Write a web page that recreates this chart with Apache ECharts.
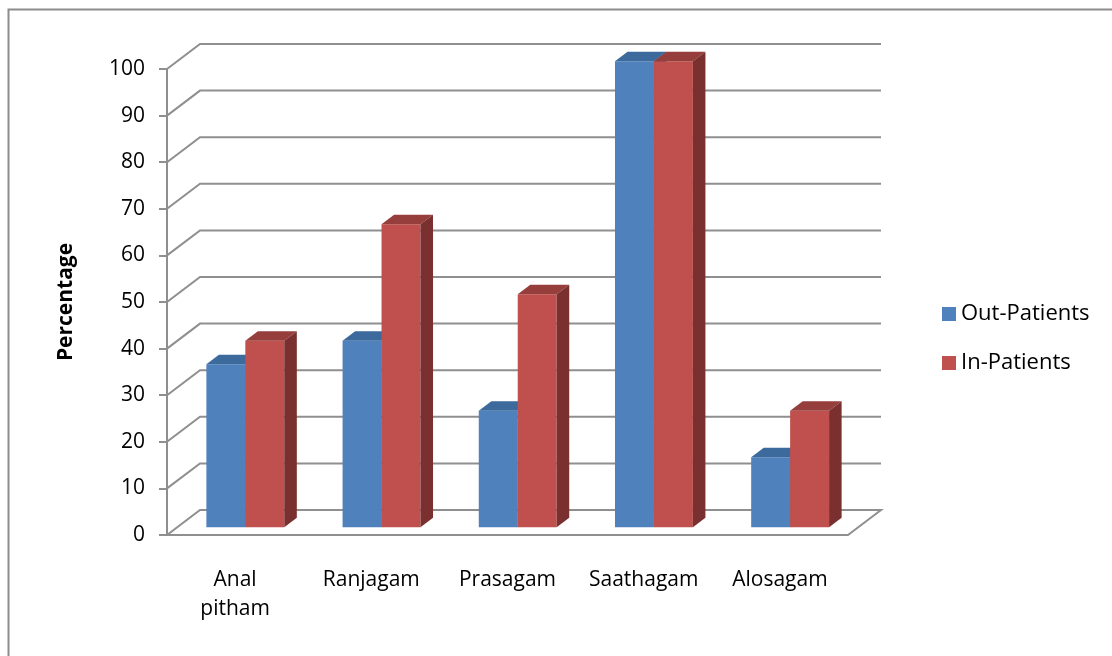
<!DOCTYPE html>
<html>
<head>
<meta charset="utf-8">
<script src="https://cdn.jsdelivr.net/npm/echarts@6/dist/echarts.min.js"></script>
<style>
html,body{margin:0;padding:0;background:#fff;}
#chart{width:1112px;height:656px;}
</style>
</head>
<body>
<div id="chart"></div>
<script>
const categories = ['Anal pitham', 'Ranjagam', 'Prasagam', 'Saathagam', 'Alosagam'];
const outPatients = [35, 40, 25, 100, 15];
const inPatients = [40, 65, 50, 100, 25];
const yTicks = [0, 10, 20, 30, 40, 50, 60, 70, 80, 90, 100];
const seriesNames = ['Out-Patients', 'In-Patients'];

const FONT = 'Open Sans';
const DX = 33, DY = -25;      // full depth offset of the 3D box (pixels)
const F0 = 0.31, FD = 0.38;   // bar front depth fraction and bar depth fraction
const BAR_FRAC = 0.286;       // one bar width as fraction of band
const GRID_COLOR = '#8f8f8f';

const chart = echarts.init(document.getElementById('chart'));

function barRenderer(slot, front, top, side) {
  return function (params, api) {
    const idx = api.value(0), val = api.value(1);
    const base = api.coord([idx, 0]);
    const peak = api.coord([idx, val]);
    const bw = api.size([1, 0])[0];
    const w = bw * BAR_FRAC;
    const fx = DX * F0, fy = DY * F0, ddx = DX * FD, ddy = DY * FD;
    const x0 = base[0] - w + slot * w + fx;
    const yb = base[1] + fy, yt = peak[1] + fy;
    return {
      type: 'group',
      children: [
        { type: 'rect', shape: { x: x0, y: yt, width: w, height: yb - yt }, style: { fill: front } },
        { type: 'polygon', shape: { points: [[x0, yt], [x0 + w, yt], [x0 + w + ddx, yt + ddy], [x0 + ddx, yt + ddy]] }, style: { fill: top } },
        { type: 'polygon', shape: { points: [[x0 + w, yt], [x0 + w + ddx, yt + ddy], [x0 + w + ddx, yb + ddy], [x0 + w, yb]] }, style: { fill: side } }
      ]
    };
  };
}

function gridRenderer(params, api) {
  const v = api.value(1);
  const bw = api.size([1, 0])[0];
  const first = api.coord([0, v]);
  const last = api.coord([categories.length - 1, v]);
  const xl = first[0] - bw / 2, xr = last[0] + bw / 2, y = first[1];
  let pts;
  if (v === 0) {
    pts = [[xl, y], [xl + DX, y + DY], [xr + DX, y + DY], [xr, y]];
  } else {
    pts = [[xl, y], [xl + DX, y + DY], [xr + DX, y + DY]];
  }
  return { type: 'polyline', shape: { points: pts }, style: { stroke: GRID_COLOR, lineWidth: 2, fill: null } };
}

const option = {
  animation: false,
  backgroundColor: '#ffffff',
  graphic: [{
    type: 'rect', left: 6, top: 7, shape: { x: 0, y: 0, width: 1200, height: 700 },
    style: { fill: null, stroke: '#8c8c8c', lineWidth: 2 }, silent: true, z: -10
  }],
  grid: { left: 167, top: 69, width: 681, height: 466 },
  legend: {
    data: seriesNames,
    orient: 'vertical',
    left: 937, top: 297,
    itemWidth: 14, itemHeight: 14, itemGap: 25,
    icon: 'rect',
    textStyle: { fontFamily: FONT, fontSize: 22, color: '#000', lineHeight: 24 }
  },
  xAxis: {
    type: 'category',
    data: categories,
    boundaryGap: true,
    axisLine: { show: true, lineStyle: { color: GRID_COLOR, width: 2 } },
    axisTick: { show: false },
    axisLabel: {
      interval: 0, hideOverlap: false,
      fontFamily: FONT, fontSize: 21, color: '#000', margin: 31, lineHeight: 29,
      formatter: function (s) { return s.replace(' ', '\n'); }
    },
    splitLine: { show: false }
  },
  yAxis: {
    type: 'value',
    min: 0, max: 100, interval: 10,
    name: 'Percentage',
    nameLocation: 'middle',
    nameGap: 90,
    nameTextStyle: { fontFamily: FONT, fontSize: 21, fontWeight: 'bold', color: '#000' },
    axisLine: { show: true, lineStyle: { color: GRID_COLOR, width: 2 } },
    axisTick: { show: true, inside: false, length: 8, lineStyle: { color: GRID_COLOR, width: 2 } },
    axisLabel: { fontFamily: FONT, fontSize: 21, color: '#000', margin: 22 },
    splitLine: { show: false }
  },
  series: [
    {
      type: 'custom', name: 'grid', coordinateSystem: 'cartesian2d', silent: true, clip: false, z: 1,
      encode: { x: 0, y: 1 },
      data: yTicks.map(function (v) { return [0, v]; }),
      renderItem: gridRenderer
    },
    {
      type: 'custom', name: seriesNames[0], coordinateSystem: 'cartesian2d', clip: false, z: 3,
      itemStyle: { color: '#4F81BD' },
      encode: { x: 0, y: 1 },
      data: outPatients.map(function (v, i) { return [i, v]; }),
      renderItem: barRenderer(0, '#4F81BD', '#3D6A9C', '#385D8A')
    },
    {
      type: 'custom', name: seriesNames[1], coordinateSystem: 'cartesian2d', clip: false, z: 3,
      itemStyle: { color: '#C0504D' },
      encode: { x: 0, y: 1 },
      data: inPatients.map(function (v, i) { return [i, v]; }),
      renderItem: barRenderer(1, '#C0504D', '#963E3B', '#79302F')
    }
  ]
};
chart.setOption(option);
</script>
</body>
</html>
